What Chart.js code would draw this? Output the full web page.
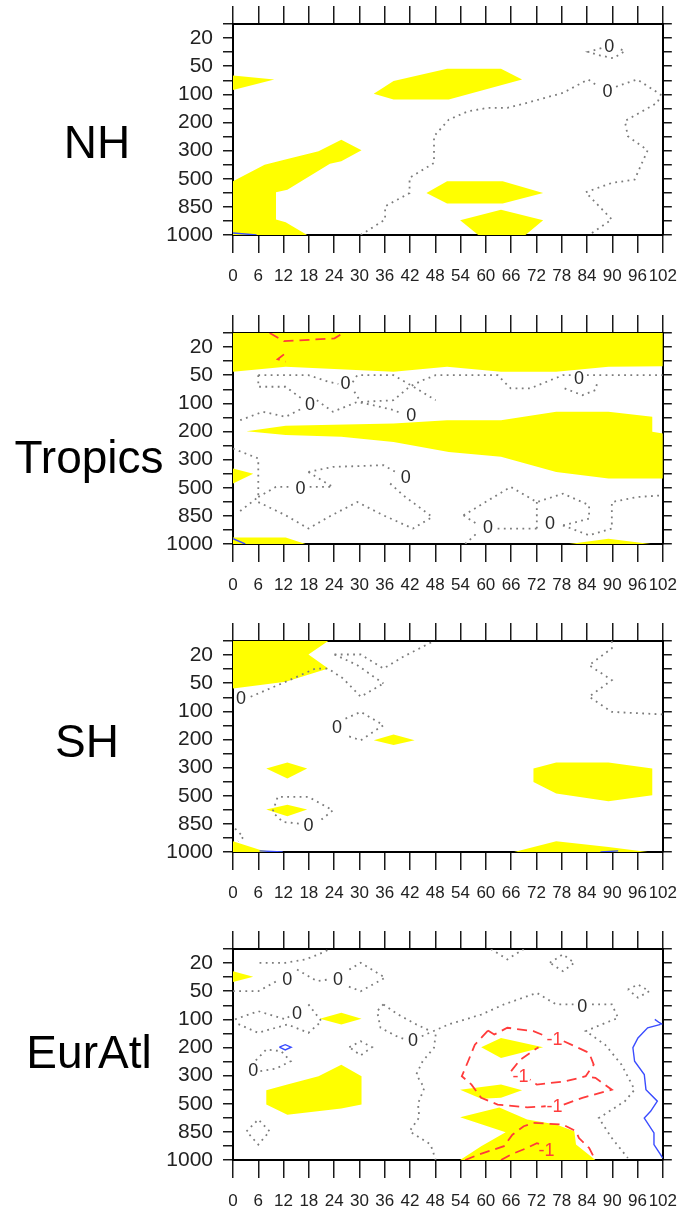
<!DOCTYPE html>
<html>
<head>
<meta charset="utf-8">
<script src="https://cdn.jsdelivr.net/npm/chart.js@4.4.1/dist/chart.umd.min.js"></script>
<style>
	body{ margin:0; background:#fff; width:690px; height:1211px; position:relative; overflow:hidden; font-family:"Liberation Sans", Arial, sans-serif; }
	canvas{ position:absolute; left:0; }
	.ttl{ position:absolute; font-size:46px; line-height:1; color:#000; transform:translate(-50%,-50%); white-space:nowrap; }
</style>
</head>
<body>
<script>
// axes
var hours  = [0, 6, 12, 18, 24, 30, 36, 42, 48, 54, 60, 66, 72, 78, 84, 90, 96, 102];
var levels = ['1000', '850', '500', '300', '200', '100', '50', '20']; // level index 0..7

// points are [hour, level index]

// ---- NH
var nhFillA = [[0,5.67],[9.8,5.53],[0,5.15]];
var nhFillB = [[33.4,5.02],[38.1,5.47],[50.8,5.91],[63.6,5.91],[68.6,5.53],[51.2,4.82],[38.1,4.82]];
var nhFillC = [[0,1.91],[7.5,2.50],[12.9,2.70],[20.3,2.98],[25.7,3.39],[30.5,3.01],[25.7,2.62],[23.0,2.53],[12.9,1.61],[10.2,1.52],[10.2,0.55],[12.5,0.45],[17.6,0],[0,0]];
var nhFillD = [[45.9,1.49],[50.8,1.91],[64.0,1.91],[73.6,1.49],[64.0,1.12],[50.8,1.12]];
var nhFillE = [[53.9,0.52],[63.6,0.90],[73.6,0.52],[69.4,0],[58.2,0]];
var nhZeroA = [[87.4,6.64],[84.3,6.51],[87.2,6.38],[90.3,6.28],[93.0,6.54],[91.6,6.62]];
var nhZeroB = [[30.3,0],[36.1,0.55],[36.1,1.02],[41.9,1.49],[41.9,2.03],[47.7,2.56],[47.7,3.51],[51.2,4.10],[55.8,4.40],[60.5,4.52],[65.1,4.52],[69.8,4.70],[78.3,5.05],[84.3,5.53],[86.8,5.27]];
var nhZeroC = [[90.9,5.27],[95.9,5.53],[101.5,4.99],[100.7,4.70],[93.0,4.05],[93.7,3.51],[98.4,3.01],[95.3,1.97],[89.9,1.85],[83.7,1.52],[89.9,0.55],[84.5,0]];
var nhBlue  = [[0,0.07],[5.6,0]];
var nhLabels = [[89.3,6.71,'0'],[88.9,5.11,'0']];

// ---- Tropics
var trFillTop = [[0,6.12],[12.5,6.30],[38.1,6.12],[50.8,6.30],[63.6,6.12],[76.7,6.12],[89.1,6.30],[102,6.32],[102,7.5],[0,7.5]];
var trFillMid = [[3.2,4.01],[12.5,4.20],[38.1,4.28],[50.8,4.40],[63.6,4.40],[76.7,4.70],[89.1,4.70],[99.5,4.52],[99.5,3.99],[102,3.93],[102,2.33],[89.1,2.33],[76.7,2.56],[63.6,3.10],[51.2,3.27],[38.1,3.63],[25.7,3.81],[12.5,3.87]];
var trFillL   = [[0,2.68],[4.8,2.50],[0,2.15]];
var trFillBL  = [[0,0.23],[12.5,0.23],[17.2,0],[0,0]];
var trFillBR  = [[79.8,0],[89.1,0.19],[99.1,0]];
var trRedA = [[8.7,7.5],[12.1,7.21],[19.5,7.27],[24.1,7.31],[26.1,7.5]];
var trRedB = [[12.1,6.74],[10.6,6.57],[12.5,6.48]];
var trBlue = [[0,0.19],[2.9,0]];
var trZero = [
	[[6.0,6.00],[17.9,6.00],[22.6,5.77],[25.0,5.69]],
	[[28.4,5.75],[29.5,6.00],[38.1,6.00],[43.5,5.53],[48.1,5.11]],
	[[6.0,6.00],[6.0,5.59],[12.5,5.59],[16.8,5.11]],
	[[1.7,4.40],[7.1,4.70],[12.5,4.52],[16.4,4.82]],
	[[19.9,5.11],[23.7,4.70],[29.5,5.05],[33.4,4.93],[38.1,4.76],[40.0,4.64]],
	[[28.8,5.41],[30.3,5.05],[38.1,5.11],[41.9,5.59],[45.0,5.82],[48.1,6.00],[62.8,6.00],[65.9,5.53],[70.5,5.53],[78.3,6.00],[80.3,6.00]],
	[[84.0,6.00],[102,6.00]],
	[[78.7,5.53],[82.9,5.29],[86.0,5.47],[86.4,5.71]],
	[[0,3.39],[6.0,3.04],[6.0,1.67],[0.9,1.08]],
	[[6.0,1.49],[12.5,1.02],[17.9,0.55],[23.4,1.02],[29.5,1.49],[35.7,1.02],[42.7,0.55],[47.3,0.96]],
	[[6.0,1.67],[10.2,2.03],[14.0,2.03]],
	[[18.2,2.03],[23.7,2.03]],
	[[17.9,2.56],[23.7,2.74],[35.7,2.80],[38.6,2.56]],
	[[17.9,2.56],[21.0,2.27],[23.7,2.03]],
	[[37.3,2.15],[40.4,1.73],[47.3,0.96]],
	[[54.7,1.02],[65.9,2.03],[72.1,1.49],[78.3,1.79],[84.5,1.38],[84.5,0.90],[78.3,0.66]],
	[[54.7,1.02],[58.4,0.66]],
	[[62.8,0.55],[72.1,0.55],[73.0,0.60]],
	[[72.1,0.55],[72.1,1.49]],
	[[55.1,0],[58.2,0.43]],
	[[78.3,0.66],[84.5,0.31],[89.9,0.55],[89.9,1.49],[95.9,1.67],[102,1.73]]
];
var trLabels = [[26.7,5.71,'0'],[18.3,4.99,'0'],[42.3,4.58,'0'],[82.1,5.91,'0'],[16.0,1.99,'0'],[41.0,2.38,'0'],[60.5,0.60,'0'],[75.2,0.76,'0']];

// ---- SH
var shFillA = [[0,7.5],[22.6,7.5],[17.9,7.02],[22.6,6.52],[12.5,6.05],[0,5.81]];
var shFillB = [[33.4,3.97],[38.1,4.18],[43.1,3.97],[38.1,3.80]];
var shFillC = [[7.9,2.97],[12.9,3.18],[17.6,2.97],[12.9,2.61]];
var shFillD = [[7.9,1.51],[12.9,1.68],[17.6,1.51],[12.9,1.27]];
var shFillE = [[71.3,2.97],[71.3,2.49],[76.7,2.08],[89.1,1.80],[99.5,2.02],[99.5,2.97],[89.1,3.18],[76.7,3.18]];
var shFillF = [[0,0.38],[6.3,0.08],[9.4,0],[0,0]];
var shFillG = [[66.7,0],[76.7,0.38],[89.1,0.18],[98.4,0]];
var shBlueA = [[6.3,0.04],[11.8,0]];
var shBlueB = [[87.2,0],[91.4,0.04]];
var shZero = [
	[[4.2,5.52],[12.5,6.05],[19.5,6.52],[22.6,6.52],[26.1,6.17],[30.3,5.52],[35.7,5.99]],
	[[24.1,7.02],[30.3,7.02],[35.7,6.52],[40.4,6.94],[47.3,7.47]],
	[[24.1,7.02],[29.5,6.64],[35.7,5.99]],
	[[26.7,4.74],[30.3,4.98],[35.7,4.51],[30.3,3.97],[26.7,4.15]],
	[[15.6,1.01],[11.8,1.07],[9.4,1.42],[10.6,1.96],[17.9,1.96],[23.7,1.48],[20.3,1.07]],
	[[0.5,0.83],[2.5,0.53],[1.2,0.38]],
	[[89.9,7.5],[89.9,7.24],[84.5,6.64],[89.9,6.11],[84.5,5.52],[89.9,4.98],[102,4.89]]
];
var shLabels = [[1.9,5.48,'0'],[24.7,4.45,'0'],[17.9,0.95,'0']];

// ---- EurAtl
var eaFillA = [[0,6.71],[4.8,6.51],[0,6.33]];
var eaFillB = [[20.6,5.02],[25.7,5.23],[30.5,5.02],[25.7,4.82]];
var eaFillC = [[7.9,2.48],[12.9,2.68],[20.3,2.98],[25.7,3.39],[30.5,2.98],[30.5,1.97],[25.7,1.83],[12.9,1.61],[7.9,1.97]];
var eaFillD = [[58.9,4.01],[63.6,4.34],[73.6,4.01],[63.6,3.63]];
var eaFillE = [[53.9,2.50],[63.6,2.68],[68.6,2.48],[63.6,2.21],[58.9,2.18]];
var eaFillF = [[53.9,1.52],[63.2,1.87],[69.8,1.44],[76.7,1.26],[81.0,1.02],[81.4,0.55],[86.0,0],[53.9,0],[58.9,0.49],[64.7,0.99]];
var eaNeg = [
	[[60.5,4.60],[62.0,4.46],[65.1,4.70],[71.3,4.58],[74.2,4.40]],
	[[78.5,4.22],[84.5,3.81],[85.6,3.39],[83.7,2.98],[79.0,2.80],[72.1,2.68],[70.5,2.86]],
	[[66.0,3.16],[68.2,3.57],[72.5,4.01]],
	[[60.5,4.60],[58.9,4.34],[57.4,4.10],[55.8,3.51],[54.3,2.98],[56.6,2.68],[58.9,2.21],[62.8,1.97],[69.8,1.87],[74.2,1.91]],
	[[78.5,1.97],[82.9,2.21],[89.9,2.50],[86.0,2.92],[83.7,2.98]],
	[[55.1,0],[58.2,0.19],[64.3,0.49],[66.3,0.90],[69.0,1.20],[71.3,1.32],[78.3,1.26],[81.4,1.02],[82.1,0.78],[84.5,0.43],[86.0,0]],
	[[63.6,0],[65.9,0.19],[69.8,0.43],[72.1,0.60],[73.0,0.55]]
];
var eaPos = [
	[[100.1,5.00],[101.2,4.88],[101.9,4.82]],
	[[101.5,4.82],[98.4,4.70],[96.1,4.34],[94.9,3.99],[95.3,3.51],[97.6,3.04],[98.0,2.50],[100.7,2.09],[99.1,1.73],[97.6,1.49],[99.9,0.96],[99.9,0.55],[102,0.07]],
	[[11.0,4.01],[12.4,4.10],[13.8,4.01],[12.4,3.91],[11.0,4.01]]
];
var eaZero = [
	[[0,6.00],[6.0,6.00],[10.4,6.36]],
	[[6.3,7.01],[12.5,7.01],[17.2,7.13],[20.3,7.31],[22.9,7.49]],
	[[15.2,6.77],[19.9,6.36],[22.4,6.41]],
	[[27.6,6.77],[30.3,7.01],[36.1,6.48],[30.3,6.00],[27.2,6.18]],
	[[0.5,5.00],[6.0,5.29],[12.5,5.00],[13.7,5.15]],
	[[17.9,5.53],[21.0,4.93],[17.9,4.52],[12.9,4.82],[6.0,4.52],[0.5,4.88]],
	[[27.6,4.01],[30.3,4.22],[33.0,4.01],[30.3,3.72],[27.6,4.01]],
	[[6.5,3.16],[10.2,3.25],[13.7,3.51],[11.4,3.87],[7.9,3.93],[5.2,3.51]],
	[[3.2,1.02],[6.0,1.44],[8.7,1.02],[6.0,0.55],[3.2,1.02]],
	[[35.7,5.53],[34.2,5.29],[35.0,4.70],[38.8,4.40],[40.6,4.30]],
	[[35.7,5.53],[39.2,5.17],[43.5,4.82],[46.9,4.58]],
	[[44.8,4.40],[51.2,4.82],[58.9,5.17],[64.3,5.53],[72.1,5.94],[76.7,5.53],[80.8,5.53]],
	[[85.2,5.53],[89.9,5.53],[91.4,5.05],[87.5,4.82],[83.7,4.58],[88.3,4.10],[92.2,3.39],[95.3,2.50],[93.0,2.09],[86.8,1.49],[89.9,0.78],[93.7,0.07]],
	[[48.1,4.46],[47.7,3.99],[45.0,3.51],[43.5,3.04],[45.4,2.56],[43.9,2.00],[44.2,1.52],[41.9,1.02],[46.9,0.55],[48.1,0]],
	[[61.2,7.5],[65.1,7.13],[69.0,7.5]],
	[[75.2,7.01],[78.3,7.31],[81.0,7.01],[78.3,6.71],[75.2,7.01]],
	[[93.7,6.06],[96.1,6.24],[98.8,6.00],[96.1,5.77],[93.7,6.06]]
];
var eaLabels = [[12.9,6.44,'0'],[24.9,6.44,'0'],[15.2,5.23,'0'],[42.7,4.28,'0'],[4.8,3.21,'0'],[82.9,5.47,'0'],
	[76.3,4.31,'-1','#ff3b3b'],[68.2,2.98,'-1','#ff3b3b'],[76.3,1.91,'-1','#ff3b3b'],[74.4,0.37,'-1','#ff3b3b']];

var panels = [
	{ name:'NH',      top:0,   tx:97, ty:141, fills:[nhFillA,nhFillB,nhFillC,nhFillD,nhFillE], zero:[nhZeroA,nhZeroB,nhZeroC], neg:[], pos:[nhBlue], labels:nhLabels },
	{ name:'Tropics', top:309, tx:89, ty:456, fills:[trFillTop,trFillMid,trFillL,trFillBL,trFillBR], zero:trZero, neg:[trRedA,trRedB], pos:[trBlue], labels:trLabels },
	{ name:'SH',      top:617, tx:87, ty:740, fills:[shFillA,shFillB,shFillC,shFillD,shFillE,shFillF,shFillG], zero:shZero, neg:[], pos:[shBlueA,shBlueB], labels:shLabels },
	{ name:'EurAtl',  top:925, tx:89, ty:1051, fills:[eaFillA,eaFillB,eaFillC,eaFillD,eaFillE,eaFillF], zero:eaZero, neg:eaNeg, pos:eaPos, labels:eaLabels }
];

var FONT = '"Liberation Sans", Arial, sans-serif';

function pts( a ){
	return a.map( function( p ){ return { x:p[0], y:p[1] }; } );
}

// contour labels drawn at data positions
var contourLabels = {
	id: 'contourLabels',
	afterDatasetsDraw: function( chart, args, opts ){
		var ctx = chart.ctx, sx = chart.scales.x, sy = chart.scales.y;
		ctx.save();
		ctx.font = '18px ' + FONT;
		ctx.textAlign = 'center';
		ctx.textBaseline = 'middle';
		( opts.items || [] ).forEach( function( l ){
			ctx.fillStyle = l[3] || '#2a2a2a';
			ctx.fillText( l[2], sx.getPixelForValue( l[0] ), sy.getPixelForValue( l[1] ) + 1 );
		} );
		ctx.restore();
	}
};

function axisGrid( len ){
	return { display:true, drawOnChartArea:false, drawTicks:true, tickLength:len, color:'#1a1a1a', lineWidth:1.5 };
}
var border = { display:true, color:'#000', width:2 };

panels.forEach( function( p ){
	var datasets = [];
	p.fills.forEach( function( f ){
		datasets.push( { data:pts(f), fill:'shape', backgroundColor:'#ffff00', borderColor:'rgba(0,0,0,0)', borderWidth:0, pointRadius:0, order:3 } );
	} );
	p.zero.forEach( function( z ){
		datasets.push( { data:pts(z), fill:false, borderColor:'#7c7c7c', borderWidth:1.8, borderDash:[1.8,4.4], pointRadius:0, order:1 } );
	} );
	p.neg.forEach( function( z ){
		datasets.push( { data:pts(z), fill:false, borderColor:'#ff3b3b', borderWidth:1.8, borderDash:[10,6], pointRadius:0, order:1 } );
	} );
	p.pos.forEach( function( z ){
		datasets.push( { data:pts(z), fill:false, borderColor:'#3a4cff', borderWidth:1.4, pointRadius:0, order:1 } );
	} );

	var cv = document.createElement( 'canvas' );
	cv.width = 690; cv.height = 300;
	cv.style.top = p.top + 'px';
	document.body.appendChild( cv );

	var t = document.createElement( 'div' );
	t.className = 'ttl';
	t.textContent = p.name;
	t.style.left = p.tx + 'px';
	t.style.top = ( p.ty + 1 ) + 'px';
	document.body.appendChild( t );

	new Chart( cv.getContext( '2d' ), {
		type: 'line',
		data: { datasets: datasets },
		plugins: [ contourLabels ],
		options: {
			responsive: false,
			animation: false,
			devicePixelRatio: 1,
			layout: { padding: 0 },
			plugins: {
				legend: { display:false },
				tooltip: { enabled:false },
				contourLabels: { items: p.labels }
			},
			scales: {
				x: {
					type:'linear', position:'bottom', min:hours[0], max:hours[hours.length-1],
					grid: axisGrid( 18 ), border: border,
					ticks: { stepSize:hours[1]-hours[0], autoSkip:false, maxRotation:0, minRotation:0, padding:13, color:'#222', font:{ family:FONT, size:17 } },
					afterFit: function( s ){ s.height = 65; }
				},
				xTop: {
					type:'linear', position:'top', min:hours[0], max:hours[hours.length-1],
					grid: axisGrid( 18 ), border: border,
					ticks: { stepSize:hours[1]-hours[0], display:false },
					afterFit: function( s ){ s.height = 24; }
				},
				y: {
					type:'linear', position:'left', min:0, max:7.5,
					grid: axisGrid( 10 ), border: border,
					ticks: {
						stepSize:0.5, autoSkip:false, padding:10, color:'#222', font:{ family:FONT, size:21 },
						callback: function( v ){ return ( v % 1 === 0 && levels[v] ) ? levels[v] : ''; }
					},
					afterFit: function( s ){ s.width = 233; }
				},
				yRight: {
					type:'linear', position:'right', min:0, max:7.5,
					grid: axisGrid( 9 ), border: border,
					ticks: { stepSize:0.5, display:false },
					afterFit: function( s ){ s.width = 18; }
				}
			}
		}
	} );
} );
</script>
</body>
</html>
